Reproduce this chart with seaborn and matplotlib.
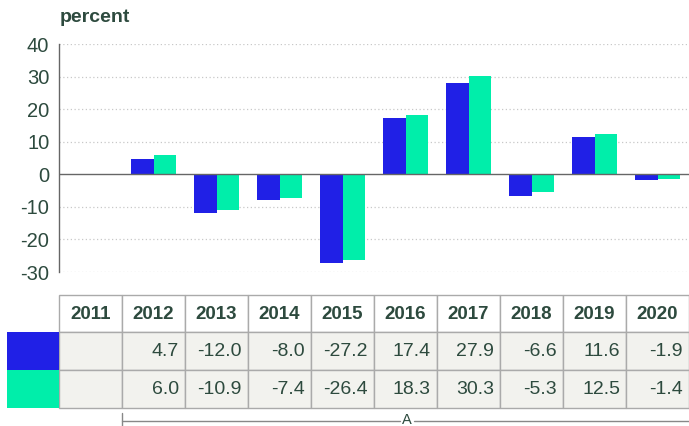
import numpy as np
import pandas as pd
import matplotlib
matplotlib.use("Agg")
import matplotlib.pyplot as plt
from matplotlib.patches import Rectangle
import seaborn as sns

years = ["2011", "2012", "2013", "2014", "2015", "2016", "2017", "2018", "2019", "2020"]
series_a = [np.nan, 4.7, -12.0, -8.0, -27.2, 17.4, 27.9, -6.6, 11.6, -1.9]
series_b = [np.nan, 6.0, -10.9, -7.4, -26.4, 18.3, 30.3, -5.3, 12.5, -1.4]
series_names = ["A1", "A2"]
colors = ["#2020E6", "#00EEAA"]
y_label = "percent"
bracket_label = "A"

sns.set_theme(style="white")
plt.rcParams['font.family'] = ['Liberation Sans', 'DejaVu Sans']
text_color = "#2D4A3E"

df = pd.DataFrame({
    "year": years * 2,
    "value": series_a + series_b,
    "series": [series_names[0]] * len(years) + [series_names[1]] * len(years),
})

W, H = 689, 426
fig = plt.figure(figsize=(W / 100, H / 100), dpi=100)

def fx(px):
    return px / W

def fy(py):
    return 1 - py / H

left, right = 59, 689
top, bottom = 44, 272
ax = fig.add_axes([fx(left), fy(bottom), fx(right - left), (bottom - top) / H])
sns.barplot(data=df, x="year", y="value", hue="series", palette=colors,
            width=0.7, ax=ax, legend=False, saturation=1, linewidth=0)
ax.set_ylim(-30, 40)
ax.set_xlim(-0.5, len(years) - 0.5)
ax.set_yticks(range(-30, 41, 10))
ax.set_yticklabels([str(v) for v in range(-30, 41, 10)], fontsize=14.5, color=text_color)
ax.tick_params(axis="y", length=0, pad=7)
ax.set_xticks([])
ax.set_xlabel("")
ax.set_ylabel("")
for v in range(-30, 41, 10):
    if v != 0:
        ax.axhline(v, color="#C8C8C8", lw=0.9, ls=(0, (1, 2)), zorder=0)
ax.axhline(0, color="#666666", lw=1.0, zorder=3)
for s in ["top", "right", "bottom"]:
    ax.spines[s].set_visible(False)
ax.spines["left"].set_color("#666666")
ax.spines["left"].set_linewidth(1.0)
fig.text(fx(60), fy(18), y_label, fontsize=14, fontweight="bold",
         color=text_color, va="center", ha="left")

# table
tab = fig.add_axes([0, 0, 1, 1])
tab.set_xlim(0, W)
tab.set_ylim(H, 0)
tab.axis("off")
col_w = (right - left) / len(years)
row_y = [295, 332, 370, 408]
grid_c = "#AAAAAA"
for i, yr in enumerate(years):
    x0 = left + i * col_w
    tab.add_patch(Rectangle((x0, row_y[0]), col_w, row_y[1] - row_y[0],
                            facecolor="white", edgecolor=grid_c, lw=1))
    tab.text(x0 + col_w / 2, (row_y[0] + row_y[1]) / 2 + 1, yr, ha="center", va="center",
             fontsize=13.5, fontweight="bold", color=text_color)
    for r, ser in enumerate([series_a, series_b]):
        tab.add_patch(Rectangle((x0, row_y[r + 1]), col_w, row_y[r + 2] - row_y[r + 1],
                                facecolor="#F2F2EE", edgecolor=grid_c, lw=1))
        val = ser[i]
        if not np.isnan(val):
            tab.text(x0 + col_w - 6, (row_y[r + 1] + row_y[r + 2]) / 2 + 1, f"{val:.1f}",
                     ha="right", va="center", fontsize=14, color=text_color)
for r, c in enumerate(colors):
    tab.add_patch(Rectangle((7, row_y[r + 1]), left - 7, row_y[r + 2] - row_y[r + 1],
                            facecolor=c, edgecolor="none"))

# bracket
bx0 = left + col_w
tab.plot([bx0, bx0], [413, 426], color="#888888", lw=1)
tab.plot([bx0, 400], [421, 421], color="#888888", lw=1)
tab.plot([414, right], [421, 421], color="#888888", lw=1)
tab.text(407, 420, bracket_label, ha="center", va="center", fontsize=10.5, color=text_color)

fig.savefig("out.png", dpi=100)
